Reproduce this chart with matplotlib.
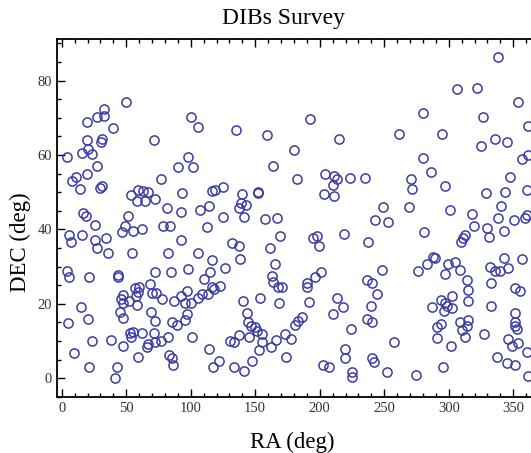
import matplotlib
matplotlib.use("Agg")
import matplotlib.pyplot as plt
from matplotlib.ticker import MultipleLocator

# sightline positions (RA, DEC in degrees)
ra = [49.8, 33.0, 27.6, 32.8, 19.4, 39.8, 100.0, 105.4, 19.4, 31.2, 30.5, 71.8, 15.5, 20.6, 23.7, 4.1, 97.7,
      27.6, 19.6, 90.2, 102.0, 77.0, 11.3, 7.8, 14.0, 29.7, 31.0, 53.7, 59.4, 63.3, 67.1, 58.1, 64.6, 72.3,
      93.3, 116.7, 81.4, 92.5, 107.2, 114.4, 16.7, 18.8, 51.6, 25.8, 49.1, 78.3, 84.0, 112.6, 47.0, 55.0,
      62.0, 5.7, 7.0, 16.0, 25.8, 34.3, 27.6, 36.1, 54.5, 82.6, 92.5, 105.4, 116.3, 4.1, 72.3, 84.7, 98.1,
      115.0,
      5.9, 21.4, 43.4, 43.9, 110.5, 116.3, 68.4, 56.8, 59.9, 59.4, 57.8, 47.3, 46.0, 47.8, 52.2, 58.1,
      69.8, 73.1, 78.0, 86.8, 92.5, 96.9, 95.6, 100.2, 105.4, 108.5, 113.6, 15.0, 45.4, 69.0, 20.2, 47.8,
      72.3, 85.3, 89.1, 95.6, 97.1, 5.1, 23.3, 38.0, 52.9, 55.0, 53.7, 62.5, 71.6, 72.3, 77.0, 82.2, 67.1,
      65.9, 47.3, 100.8, 114.2, 9.8, 58.9, 83.2, 85.3, 86.5, 21.2, 43.1, 41.3, 117.1,
      118.1, 122.7, 162.8, 164.0, 167.9, 171.0, 189.9, 189.9, 196.4, 201.0, 236.4, 140.8, 153.7, 168.7,
      191.5, 213.2, 217.8, 210.5, 236.4, 143.4, 144.2, 146.5, 149.6, 151.2, 155.5, 186.3, 183.4, 180.9,
      224.3, 137.7, 130.5, 133.6, 145.4, 155.0, 165.9, 173.1, 177.5, 162.0, 153.2, 173.9, 219.6, 219.6,
      147.5, 122.2, 133.6, 141.6, 202.8, 207.2, 225.3, 225.3,
      164.0, 182.2, 204.1, 211.1, 213.2, 210.1, 223.5, 235.1, 203.3, 211.1, 118.8, 124.8, 139.5, 152.4,
      151.9, 138.8, 137.7, 142.9, 124.8, 141.3, 157.6, 166.7, 169.2, 195.0, 197.6, 199.7, 218.8, 237.7,
      131.8, 137.7, 161.5, 138.2, 165.3, 126.6,
      134.9, 159.4, 192.5, 180.3, 215.2,
      338.4, 306.7, 321.7, 354.0, 280.3, 326.8, 361.7, 261.7, 294.6, 325.0, 335.9, 345.0, 361.7, 280.3,
      356.6,
      286.0, 270.5, 271.8, 297.1, 347.5, 360.5, 328.7, 343.6, 249.3, 269.2, 301.0, 340.5, 242.9, 252.7,
      318.3, 338.4, 350.6, 360.5, 359.2, 319.6, 329.5, 331.3, 343.1, 281.1, 312.6, 310.8, 309.3, 288.1,
      289.4, 283.0, 276.4, 299.7, 304.9, 308.8, 343.1, 357.1, 248.6, 332.0, 335.9, 339.8, 345.7, 297.1,
      240.3, 313.9, 315.2, 332.8, 351.4, 355.3, 244.4, 302.8, 294.0, 297.1, 298.4, 296.6, 302.3, 286.8,
      315.2, 239.8, 332.8, 240.8, 351.4, 351.4, 351.4, 353.2, 308.8, 315.2, 313.9, 310.5, 312.6, 294.0,
      290.7, 291.2, 327.6, 346.2, 349.3, 353.5, 360.5, 257.8, 301.4, 240.3, 242.1, 337.7, 345.0, 351.4,
      361.2, 251.9, 274.7, 295.8]

dec = [74.2, 72.4, 70.3, 70.6, 68.8, 67.2, 70.3, 67.5, 64.1, 64.4, 63.4, 64.1, 60.6, 61.6, 60.2, 59.4, 59.6,
       57.1, 54.9, 56.7, 56.7, 53.6, 54.0, 53.0, 50.9, 51.1, 51.6, 49.3, 50.6, 50.3, 50.2, 47.7, 47.7, 48.2,
       49.9, 50.3, 45.7, 44.8, 45.1, 46.3, 44.5, 43.7, 43.7, 41.2, 40.9, 41.0, 41.0, 40.7, 39.3, 39.6,
       40.1, 38.5, 36.5, 38.5, 37.2, 37.8, 34.9, 33.6, 33.6, 33.6, 37.2, 33.6, 31.7, 28.9, 28.5, 28.5, 29.3,
       28.5,
       27.2, 27.2, 27.8, 27.2, 26.7, 24.5, 25.3, 24.2, 24.5, 23.3, 22.1, 22.4, 21.2, 20.3, 20.9, 19.7,
       23.0, 22.8, 21.2, 20.9, 22.1, 23.5, 20.2, 20.2, 21.5, 22.6, 22.7, 19.1, 17.8, 17.8, 15.9, 16.1,
       15.5, 15.1, 14.3, 15.7, 17.2, 14.9, 10.1, 10.2, 12.3, 12.5, 11.0, 12.1, 12.1, 9.8, 10.0, 11.0, 9.2,
       8.3, 8.7, 11.2, 8.0, 6.7, 5.6, 6.2, 5.5, 3.6, 3.1, 3.0, 0.1, 3.1,
       23.9, 24.8, 27.5, 26.0, 24.6, 24.5, 25.7, 24.5, 27.3, 28.7, 26.4, 20.9, 21.5, 20.2,
       20.6, 21.5, 19.1, 17.3, 15.9, 17.5, 15.2, 14.1, 13.7, 12.8, 11.9, 16.6, 15.5, 14.3,
       13.3, 11.6, 10.0, 9.8, 11.2, 9.8, 10.3, 11.8, 10.5, 8.3, 7.6, 5.8, 7.9, 5.4,
       4.7, 4.7, 3.1, 2.0, 3.6, 3.1, 1.8, 0.4,
       57.1, 53.6, 54.9, 54.5, 53.6, 52.0, 53.9, 53.9, 49.5, 49.1, 50.6, 51.3, 49.5, 50.2,
       49.7, 47.0, 45.7, 46.6, 43.3, 43.3, 42.8, 43.2, 38.3, 37.6, 38.3, 35.6, 38.8, 36.6,
       36.3, 35.6, 34.9, 32.1, 30.6, 29.6,
       66.6, 65.3, 69.7, 61.3, 64.4,
       86.3, 77.7, 78.0, 74.3, 71.4, 70.3, 67.8, 65.6, 65.6, 62.4, 64.4, 63.5, 60.0, 59.1,
       58.9,
       55.5, 53.6, 50.9, 51.7, 54.2, 50.6, 49.7, 50.2, 46.0, 46.0, 45.1, 46.3, 42.6, 42.1,
       44.1, 43.0, 42.6, 43.9, 43.0, 40.9, 40.5, 38.1, 39.6, 39.4, 38.5, 37.6, 36.6, 32.7,
       32.3, 30.6, 28.8, 30.6, 31.2, 29.1, 32.4, 32.1, 29.1, 30.0, 28.9, 28.8, 29.6, 28.0,
       25.7, 26.4, 23.7, 25.7, 24.2, 23.5, 22.7, 22.2, 21.0, 20.2, 19.4, 18.1, 18.8, 19.1,
       20.9, 19.4, 19.4, 15.2, 17.6, 15.2, 14.1, 13.2, 15.1, 15.7, 14.1, 13.0, 11.2, 14.6,
       13.7, 10.8, 11.8, 10.5, 8.7, 9.6, 7.2, 9.8, 8.7, 5.4, 4.5, 5.8, 4.2, 3.6,
       0.6, 1.6, 0.9, 3.0]

xticks = [0, 50, 100, 150, 200, 250, 300, 350]
yticks = [0, 20, 40, 60, 80]

plt.rcParams['font.family'] = ['Liberation Serif', 'DejaVu Serif']

fig = plt.figure(figsize=(5.31, 4.53), dpi=100)
# right edge of the frame runs past the image, like the cropped original
ax = fig.add_axes([56.7 / 531, 55.7 / 453, 482.3 / 531, 358.0 / 453])

ax.plot(ra, dec, 'o', ms=6.6, mfc='none', mec='#3c3ca6', mew=1.1, ls='none')

ax.set_xlim(-3.9, 370)
ax.set_ylim(-5.1, 91.1)
ax.set_xticks(xticks)
ax.set_yticks(yticks)
ax.xaxis.set_minor_locator(MultipleLocator(10))
ax.yaxis.set_minor_locator(MultipleLocator(5))
ax.tick_params(which='both', direction='in', top=True, right=False, labelsize=10.5,
               labelcolor='#333333', width=1.0)
ax.tick_params(which='major', length=6)
ax.tick_params(which='minor', length=3)
for s in ax.spines.values():
    s.set_linewidth(1.3)

fig.text(284 / 531, 1 - 24 / 453, 'DIBs Survey', ha='center', va='baseline', fontsize=17)
fig.text(292 / 531, 1 - 448 / 453, 'RA (deg)', ha='center', va='baseline', fontsize=16.5)
fig.text(20 / 531, 1 - 242 / 453, 'DEC (deg)', ha='center', va='center', rotation=90, fontsize=16.5)

fig.savefig('out.png', dpi=100)
